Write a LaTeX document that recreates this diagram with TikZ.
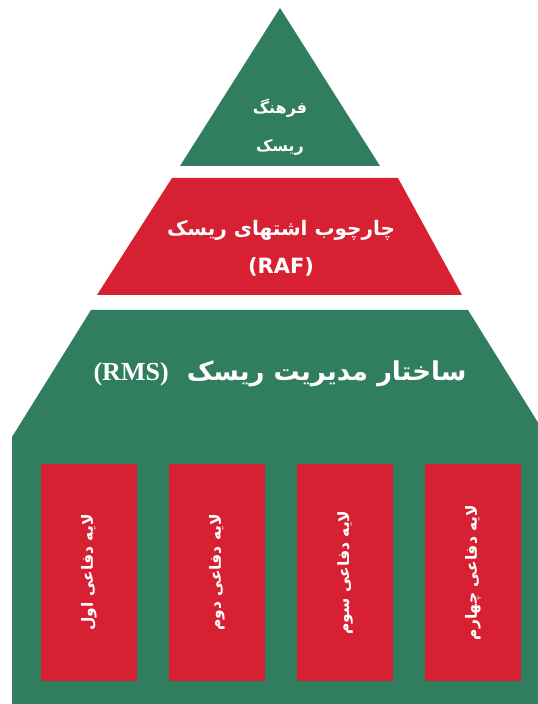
\documentclass[tikz,border=0pt]{standalone}
\usepackage{fontspec}
\setmainfont{Liberation Serif}
\newfontfamily\farsi[Script=Arabic]{DejaVu Sans}
\TeXXeTstate=1
\definecolor{riskgreen}{RGB}{49,125,95}
\definecolor{riskred}{RGB}{215,33,51}

\begin{document}
\begin{tikzpicture}[
      x=1pt,y=1pt,
      tiertext/.style={text=white,inner sep=0,font=\farsi\bfseries},
      layer/.style={fill=riskred,text=white,rotate=90,inner sep=0,
        minimum width=217pt,minimum height=96pt,
        font=\farsi\bfseries\fontsize{15.5}{18}\selectfont},
    ]
    \useasboundingbox (0,0) rectangle (538,704);
    % pyramid tiers
    \fill[riskgreen] (280,696) -- (380,538) -- (180,538) -- cycle;
    \fill[riskred] (172,526) -- (398,526) -- (462,409) -- (97,409) -- cycle;
    \begin{scope}
      \clip (0,0) rectangle (538,704);
      \fill[riskgreen] (91,394) -- (468,394) -- (547,267) -- (547,0)
        -- (12,0) -- (12,267) -- cycle;
    \end{scope}
    %
    \node (culture1) [tiertext,font=\farsi\bfseries\fontsize{16}{19}\selectfont]
      at (280,596) {\beginR فرهنگ\endR};
    \node (culture2) [tiertext,font=\farsi\bfseries\fontsize{16}{19}\selectfont]
      at (280,557) {\beginR ریسک\endR};
    %
    \node (raf1) [tiertext,font=\farsi\bfseries\fontsize{20}{24}\selectfont]
      at (281,474) {\beginR چارچوب اشتهای ریسک\endR};
    \node (raf2) [tiertext,font=\farsi\bfseries\fontsize{21}{25}\selectfont]
      at (281,437) {(RAF)};
    %
    \node (rms) [tiertext,font=\farsi\bfseries\fontsize{26}{31}\selectfont]
      at (280,330) {\beginR ساختار مدیریت ریسک\ \ \beginL{\rmfamily\bfseries (RMS)}\endL\endR};
    %
    \foreach \i/\name in {0/اول,1/دوم,2/سوم,3/چهارم}
      \node (layer\i) [layer] at (89+128*\i,131.5)
        {\beginR لایه دفاعی \name\endR};
    %
  \end{tikzpicture}
\end{document}
